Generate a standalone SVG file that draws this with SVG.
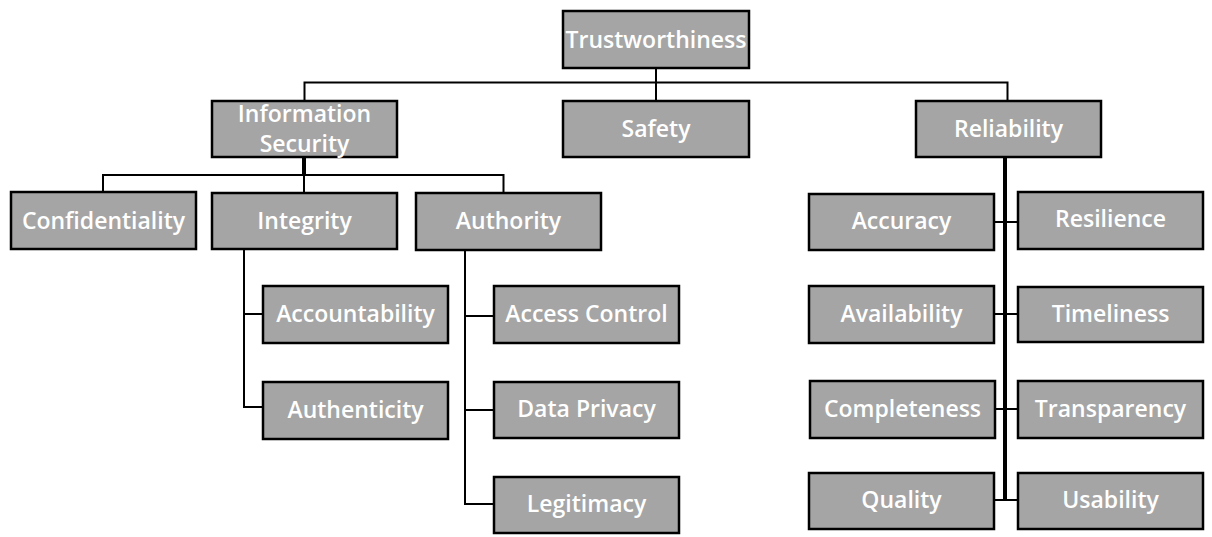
<svg xmlns="http://www.w3.org/2000/svg" width="1212" height="537" viewBox="0 0 1212 537">
<style>
.box{fill:#a5a5a5;stroke:#000;stroke-width:2.5}
.lbl{font-family:"Open Sans","Liberation Sans",sans-serif;font-size:23px;font-weight:600;fill:#fff;text-anchor:middle}
.ln{fill:none;stroke:#000;stroke-width:2}
.thick{fill:none;stroke:#000;stroke-width:4}
</style>
<rect width="1212" height="537" fill="#fff"/>
<g id="connectors">
<path class="ln" d="M304.5,157 V82.5 H1007.5 V101 M656,69 V101"/>
<path class="thick" d="M304,157 V175"/>
<path class="ln" d="M103,192 V175 H503.5 V193 M304,175 V193"/>
<path class="ln" d="M244,249 V407 H263 M244,314 H263"/>
<path class="ln" d="M465,250 V504 H494 M465,316 H494 M465,410 H494"/>
<path class="thick" d="M1005,157 V500"/>
<path class="ln" d="M994,222 H1018 M994,314 H1018 M995,409 H1018 M994,500 H1018"/>
</g>
<g id="trustworthiness"><rect class="box" x="563" y="11" width="186" height="57"/><text class="lbl" x="656" y="48">Trustworthiness</text></g>
<g id="information-security"><rect class="box" x="212" y="101" width="185" height="56"/><text class="lbl" x="304.5" y="122">Information</text><text class="lbl" x="304.5" y="152">Security</text></g>
<g id="safety"><rect class="box" x="563" y="101" width="186" height="56"/><text class="lbl" x="656" y="137">Safety</text></g>
<g id="reliability"><rect class="box" x="916" y="101" width="185" height="56"/><text class="lbl" x="1008.5" y="137">Reliability</text></g>
<g id="confidentiality"><rect class="box" x="11" y="192" width="185" height="57"/><text class="lbl" x="103.5" y="229">Confidentiality</text></g>
<g id="integrity"><rect class="box" x="212" y="193" width="185" height="56"/><text class="lbl" x="304.5" y="229">Integrity</text></g>
<g id="authority"><rect class="box" x="416" y="193" width="185" height="57"/><text class="lbl" x="508.5" y="229">Authority</text></g>
<g id="accountability"><rect class="box" x="263" y="286" width="185" height="57"/><text class="lbl" x="355.5" y="322">Accountability</text></g>
<g id="authenticity"><rect class="box" x="263" y="382" width="185" height="57"/><text class="lbl" x="355.5" y="418">Authenticity</text></g>
<g id="access-control"><rect class="box" x="494" y="286" width="185" height="57"/><text class="lbl" x="586.5" y="322">Access Control</text></g>
<g id="data-privacy"><rect class="box" x="494" y="382" width="185" height="56"/><text class="lbl" x="586.5" y="417">Data Privacy</text></g>
<g id="legitimacy"><rect class="box" x="494" y="477" width="185" height="56"/><text class="lbl" x="586.5" y="512">Legitimacy</text></g>
<g id="accuracy"><rect class="box" x="809" y="194" width="185" height="56"/><text class="lbl" x="901.5" y="229">Accuracy</text></g>
<g id="resilience"><rect class="box" x="1018" y="192" width="185" height="57"/><text class="lbl" x="1110.5" y="227">Resilience</text></g>
<g id="availability"><rect class="box" x="809" y="286" width="185" height="57"/><text class="lbl" x="901.5" y="322">Availability</text></g>
<g id="timeliness"><rect class="box" x="1018" y="287" width="185" height="55"/><text class="lbl" x="1110.5" y="322">Timeliness</text></g>
<g id="completeness"><rect class="box" x="810" y="381" width="185" height="57"/><text class="lbl" x="902.5" y="417">Completeness</text></g>
<g id="transparency"><rect class="box" x="1018" y="381" width="185" height="57"/><text class="lbl" x="1110.5" y="417">Transparency</text></g>
<g id="quality"><rect class="box" x="809" y="473" width="185" height="56"/><text class="lbl" x="901.5" y="508">Quality</text></g>
<g id="usability"><rect class="box" x="1018" y="473" width="185" height="56"/><text class="lbl" x="1110.5" y="508">Usability</text></g>
</svg>
